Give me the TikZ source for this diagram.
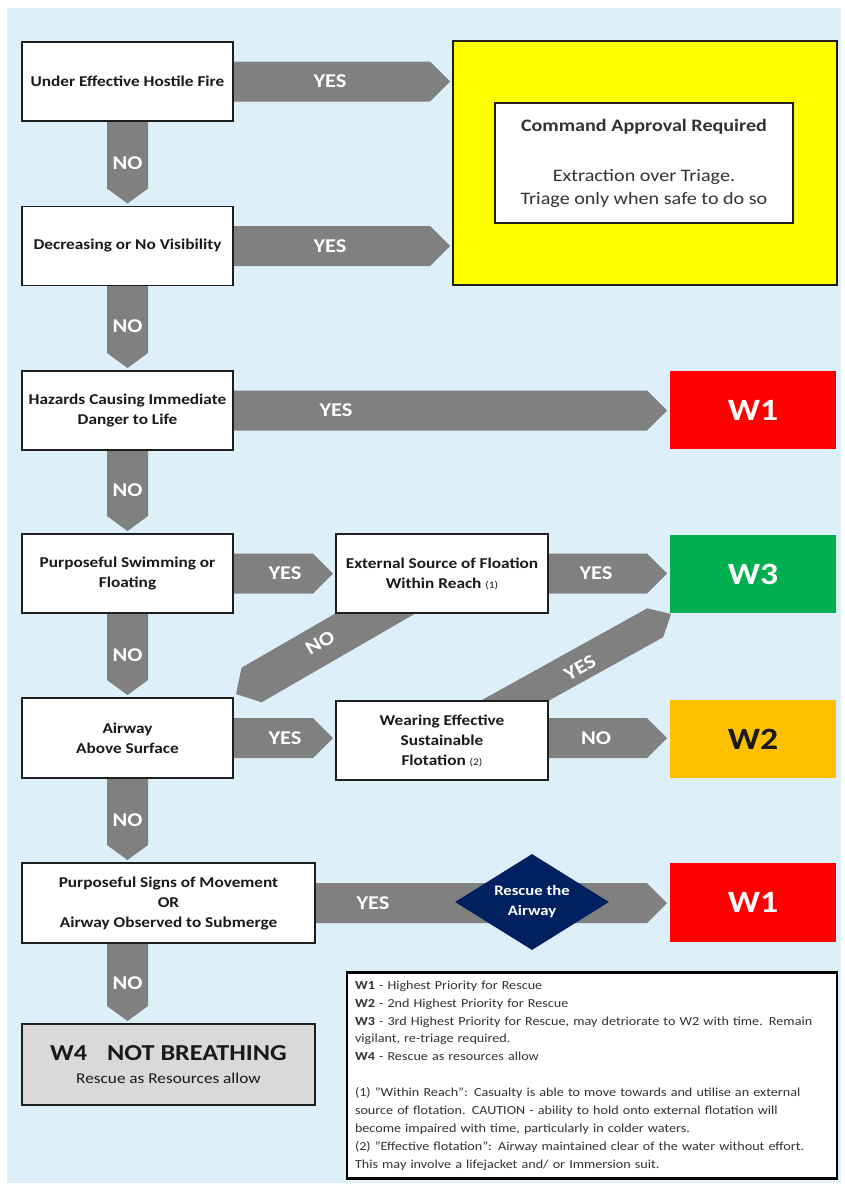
\documentclass[tikz,border=0pt]{standalone}
\usepackage{fontspec}
\setmainfont{Carlito}[FakeStretch=1.15]
\usetikzlibrary{calc,shapes.geometric}
\pgfdeclarelayer{bg}
\pgfdeclarelayer{arr}
\pgfsetlayers{bg,arr,main}
\definecolor{bgblue}{RGB}{221,239,249}
\definecolor{arrowgrey}{RGB}{128,128,128}
\definecolor{boxline}{RGB}{30,30,30}
\definecolor{textdark}{RGB}{25,25,25}
\definecolor{textgrey}{RGB}{50,50,50}
\definecolor{yellowc}{RGB}{255,255,0}
\definecolor{redc}{RGB}{255,0,0}
\definecolor{greenc}{RGB}{0,176,80}
\definecolor{orangec}{RGB}{255,192,0}
\definecolor{navyc}{RGB}{0,32,96}
\definecolor{w4grey}{RGB}{217,217,217}
\newcommand\smallnum{\fontsize{10}{12}\selectfont\mdseries}
\tikzset{
  qbox/.style={draw=boxline, line width=1.5pt, fill=white, text=textdark,
    font={\fontsize{15}{20}\selectfont\bfseries}, align=center, inner sep=2pt, outer sep=0pt},
  leftbox/.style={qbox, minimum width=211pt, minimum height=79pt},
  midbox/.style={qbox, minimum width=212pt, minimum height=79pt},
  wbox/.style={minimum width=166pt, minimum height=78pt, inner sep=0pt, outer sep=0pt,
    font={\fontsize{31}{34}\selectfont\bfseries}},
  lbl/.style={text=white, font={\fontsize{19.5}{20}\selectfont\bfseries}, inner sep=0pt},
  hblk/.style={to path={($(\tikztostart)+(0,-20)$) -- ($(\tikztotarget)+(-23,-20)$)
    -- ($(\tikztotarget)+(-3,0)$) -- ($(\tikztotarget)+(-23,20)$)
    -- ($(\tikztostart)+(0,20)$) -- cycle}},
  vblk/.style={to path={($(\tikztostart)+(-20.5,0)$) -- ($(\tikztotarget)+(-20.5,-18)$)
    -- ($(\tikztotarget)+(0,-3)$) -- ($(\tikztotarget)+(20.5,-18)$)
    -- ($(\tikztostart)+(20.5,0)$) -- cycle}},
  arrfill/.style={fill=arrowgrey}
}
\begin{document}
\begin{tikzpicture}[x=1pt,y=-1pt]
\useasboundingbox (0,0) rectangle (844,1186);
\begin{pgfonlayer}{bg}
\fill[white] (0,0) rectangle (844,1186);
\fill[bgblue] (7,8) rectangle (841,1183);
\end{pgfonlayer}

% left column
\node[leftbox] (b1) at (127.5,81.5) {Under Effective Hostile Fire};
\node[leftbox] (b2) at (127.5,246) {Decreasing or No Visibility};
\node[leftbox] (b3) at (127.5,410.5) {Hazards Causing Immediate\\Danger to Life};
\node[leftbox] (b4) at (127.5,573.5) {Purposeful Swimming or\\Floating};
\node[leftbox, minimum height=80pt] (b6) at (127.5,738) {Airway\\Above Surface};
\node[qbox, minimum width=293pt, minimum height=80pt] (b8) at (168.5,903)
  {Purposeful Signs of Movement\\OR\\Airway Observed to Submerge};
\node[draw=boxline, line width=1.5pt, fill=w4grey, minimum width=293pt, minimum height=81pt,
  align=center, text=textdark, inner sep=2pt, outer sep=0pt,
  font={\fontsize{15}{23.5}\selectfont}] (w4) at (168.5,1064.5)
  {{\fontsize{22.8}{26}\selectfont\bfseries W4\hspace{14pt} NOT BREATHING}\\{Rescue as Resources allow}};

% middle column
\node[midbox] (b5) at (442,573.5) {External Source of Floation\\Within Reach {\smallnum(1)}};
\node[midbox] (b7) at (442,740.5) {Wearing Effective\\Sustainable\\Flotation {\smallnum(2)}};

% yellow block
\node[draw=boxline, line width=1.5pt, fill=yellowc, minimum width=384pt, minimum height=244pt,
  outer sep=0pt] (yel) at (645,163) {};
\node[draw=boxline, line width=1.5pt, fill=white, minimum width=298pt, minimum height=120pt,
  align=center, text=textgrey, font={\fontsize{17.5}{23}\selectfont}] (cmd) at (644,163)
  {\textbf{Command Approval Required}\\[27pt]Extraction over Triage.\\Triage only when safe to do so};

% outcome boxes
\node[wbox, fill=redc, text=white] (w1a) at (753,410) {W1};
\node[wbox, fill=greenc, text=white] (w3) at (753,574) {W3};
\node[wbox, fill=orangec, text=textdark] (w2) at (753,739) {W2};
\node[wbox, fill=redc, text=white, minimum height=79pt] (w1b) at (753,902.5) {W1};

% diamond
\node[diamond, fill=navyc, text=white, minimum width=154pt, minimum height=96pt, inner sep=0pt,
  aspect=1.6, align=center, font={\fontsize{14.5}{20}\selectfont\bfseries}] (dia) at (532,902)
  {Rescue the\\Airway};

% legend
\node[draw=black, line width=2.4pt, fill=white, minimum width=490pt, minimum height=205pt,
  text width=474pt, align=left, inner sep=8pt, text=textgrey,
  font={\fontsize{12.3}{17.9}\selectfont}] (leg) at (592,1075.5)
  {\textbf{W1} - Highest Priority for Rescue\\
   \textbf{W2} - 2nd Highest Priority for Rescue\\
   \textbf{W3} - 3rd Highest Priority for Rescue, may detriorate to W2 with time. Remain\\
   vigilant, re-triage required.\\
   \textbf{W4} - Rescue as resources allow\\
   \mbox{}\\
   (1) "Within Reach": Casualty is able to move towards and utilise an external\\
   source of flotation. CAUTION - ability to hold onto external flotation will\\
   become impaired with time, particularly in colder waters.\\
   (2) "Effective flotation": Airway maintained clear of the water without effort.\\
   This may involve a lifejacket and/ or Immersion suit.};

% block arrows
\begin{pgfonlayer}{arr}
\fill[arrfill] (b1.east) to[hblk] (yel.west |- b1.east);
\fill[arrfill] (b2.east) to[hblk] (yel.west |- b2.east);
\fill[arrfill] (b3.east) to[hblk] (w1a.west |- b3.east);
\fill[arrfill] (b4.east) to[hblk] (b5.west |- b4.east);
\fill[arrfill] (b5.east) to[hblk] (w3.west |- b5.east);
\fill[arrfill] (b6.east) to[hblk] (b7.west |- b6.east);
\fill[arrfill] (b7.east |- b6.east) to[hblk] (w2.west |- b6.east);
\fill[arrfill] (b8.east) to[hblk] (w1b.west |- b8.east);
\fill[arrfill] (b1.south) to[vblk] (b2.north);
\fill[arrfill] (b2.south) to[vblk] (b3.north);
\fill[arrfill] (b3.south) to[vblk] (b4.north);
\fill[arrfill] (b4.south) to[vblk] (b6.north);
\fill[arrfill] (b6.south) to[vblk] (b6.south |- b8.north);
\fill[arrfill] (b6.south |- b8.south) to[vblk] (b6.south |- w4.north);
% diagonal NO: from b5 to b6
\coordinate (t1) at ($(b6.north east)+(3,-4)$);
\coordinate (s1) at ($(t1)+(199,-115)$);
\coordinate (h1) at ($(t1)!18pt!(s1)$);
\fill[arrfill] ($(s1)!20pt!90:(t1)$) -- ($(h1)!20pt!90:(t1)$) -- (t1)
  -- ($(h1)!20pt!-90:(t1)$) -- ($(s1)!20pt!-90:(t1)$) -- cycle;
% diagonal YES: from b7 to w3
\coordinate (t2) at ($(w3.south west)+(1,1)$);
\coordinate (s2) at ($(t2)+(-201,111.5)$);
\coordinate (h2) at ($(t2)!18pt!(s2)$);
\fill[arrfill] ($(s2)!16.5pt!90:(t2)$) -- ($(h2)!16.5pt!90:(t2)$) -- (t2)
  -- ($(h2)!16.5pt!-90:(t2)$) -- ($(s2)!16.5pt!-90:(t2)$) -- cycle;
\end{pgfonlayer}

% arrow labels
\node[lbl] (l1) at ($(b1.east)+(97,0)$) {YES};
\node[lbl] (l2) at ($(b2.east)+(97,0)$) {YES};
\node[lbl] (l3) at ($(b3.east)+(103,0)$) {YES};
\node[lbl] (l4) at ($(b4.east)+(52,0)$) {YES};
\node[lbl] (l5) at ($(b5.east)+(48,0)$) {YES};
\node[lbl] (l6) at ($(b6.east)+(52,0)$) {YES};
\node[lbl] (l7) at ($(b7.east |- b6.east)+(48,0)$) {NO};
\node[lbl] (l8) at ($(b8.east)+(58,0)$) {YES};
\node[lbl] (n1) at ($(b1.south)+(0,42)$) {NO};
\node[lbl] (n2) at ($(b2.south)+(0,41)$) {NO};
\node[lbl] (n3) at ($(b3.south)+(0,40)$) {NO};
\node[lbl] (n4) at ($(b4.south)+(0,42)$) {NO};
\node[lbl] (n5) at ($(b6.south)+(0,42)$) {NO};
\node[lbl] (n6) at ($(b6.south |- b8.south)+(0,40)$) {NO};
\node[lbl, rotate=30] (d1) at (320,643) {NO};
\node[lbl, rotate=29] (d2) at (580,668) {YES};
\end{tikzpicture}
\end{document}
